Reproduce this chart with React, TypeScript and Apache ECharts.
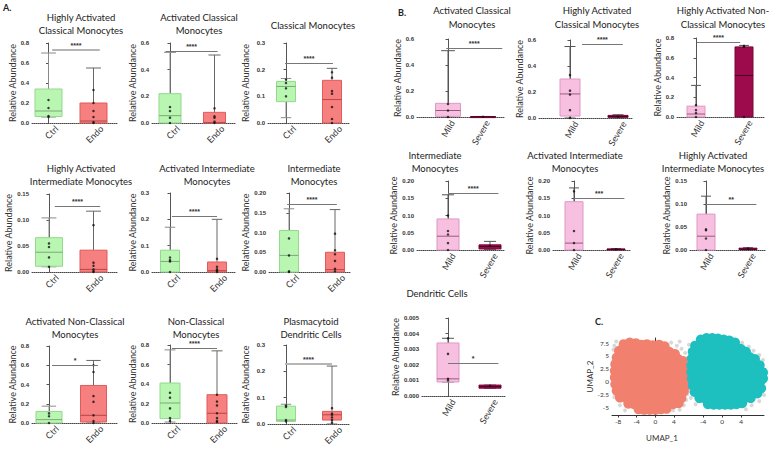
import React, { useEffect, useRef } from 'react';
import * as echarts from 'echarts';

const FONT = 'Lato, "Open Sans", sans-serif';

const groupsA = ['Ctrl', 'Endo'];
const groupsB = ['Mild', 'Severe'];

// box stats per group: [min, q1, median, q3, max]
const hacmBox = [[0.06, 0.065, 0.12, 0.34, 0.70], [0, 0, 0.02, 0.20, 0.55]];
const hacmPts = [[0.23, 0.15, 0.07, 0.06], [0.33, 0.20, 0.12, 0.06, 0.01, 0]];
const hacmSig = [0.08, 1.14, 0.73, '****'];

const acmBox = [[0, 0, 0.055, 0.22, 0.53], [0, 0, 0.003, 0.08, 0.51]];
const acmPts = [[0.12, 0.09, 0.04, 0], [0.11, 0.05, 0.04, 0.01, 0]];
const acmSig = [-0.1, 1.07, 0.54, '****'];

const cmBox = [[0.02, 0.08, 0.137, 0.156, 0.167], [0, 0, 0.088, 0.16, 0.205]];
const cmPts = [[0.163, 0.15, 0.13, 0.10], [0.19, 0.17, 0.12, 0.11, 0.06, 0.015, 0]];
const cmSig = [-0.02, 1.02, 0.225, '****'];

const haimBox = [[0.01, 0.011, 0.038, 0.066, 0.104], [0, 0, 0.005, 0.042, 0.117]];
const haimPts = [[0.055, 0.048, 0.028, 0.01], [0.09, 0.018, 0.012, 0.005, 0.002, 0]];
const haimSig = [0.13, 1.15, 0.127, '****'];

const aimBox = [[0, 0, 0.04, 0.083, 0.17], [0, 0, 0.005, 0.038, 0.2]];
const aimPts = [[0.055, 0.045, 0.04, 0], [0.05, 0.02, 0.01, 0.005, 0]];
const aimSig = [0.04, 1.0, 0.213, '****'];

const imBox = [[0, 0, 0.042, 0.105, 0.16], [0, 0, 0.006, 0.05, 0.158]];
const imPts = [[0.085, 0.042, 0.002, 0], [0.097, 0.055, 0.045, 0.028, 0.008, 0.002]];
const imSig = [-0.04, 1.04, 0.172, '****'];

const ancmBox = [[0, 0, 0.035, 0.12, 0.175], [0, 0.01, 0.08, 0.39, 0.65]];
const ancmPts = [[0.1, 0.07, 0], [0.6, 0.53, 0.28, 0.22, 0.08, 0.02, 0]];
const ancmSig = [0.07, 1.1, 0.6, '*'];

const ncmBox = [[0.01, 0.045, 0.205, 0.41, 0.75], [0, 0, 0.1, 0.29, 0.74]];
const ncmPts = [[0.31, 0.26, 0.15, 0.05, 0.02], [0.29, 0.22, 0.18, 0.10, 0.05, 0.02, 0.01]];
const ncmSig = [0.04, 1.0, 0.77, '****'];

const pdcBox = [[0.01, 0.01, 0.015, 0.068, 0.075], [0, 0.015, 0.035, 0.048, 0.22]];
const pdcPts = [[0.07, 0.065, 0.015, 0.01], [0.06, 0.04, 0.035, 0.025, 0.015, 0.005]];
const pdcSig = [-0.02, 1.0, 0.229, '****'];

const bAcmBox = [[0, 0.005, 0.05, 0.105, 0.51], [0, 0.001, 0.002, 0.003, 0.004]];
const bAcmPts = [[0.1, 0.05, 0], [0.002]];
const bAcmSig = [-0.05, 1.55, 0.53, '****'];

const bHacmBox = [[0, 0.015, 0.185, 0.30, 0.55], [0, 0.005, 0.012, 0.02, 0.025]];
const bHacmPts = [[0.33, 0.21, 0.18, 0.06, 0], [0.01]];
const bHacmSig = [0.25, 1.1, 0.57, '****'];

const bHancmBox = [[0, 0, 0.03, 0.11, 0.32], [0, 0, 0.42, 0.71, 0.725]];
const bHancmPts = [[0.12, 0.07, 0.04, 0], [0.72, 0.71, 0]];
const bHancmSig = [0.02, 0.92, 0.76, '****'];

const bImBox = [[0, 0, 0.04, 0.09, 0.16], [0.002, 0.003, 0.01, 0.015, 0.025]];
const bImPts = [[0.1, 0.055, 0.045, 0.02, 0], [0.012]];
const bImSig = [0, 1.2, 0.165, '****'];

const bAimBox = [[0, 0, 0.02, 0.14, 0.18], [0, 0.001, 0.002, 0.003, 0.004]];
const bAimPts = [[0.17, 0.055, 0.02, 0], [0.002]];
const bAimSig = [0, 1.2, 0.15, '***'];

const bHaimBox = [[0, 0, 0.03, 0.078, 0.117], [0, 0.001, 0.002, 0.004, 0.005]];
const bHaimPts = [[0.045, 0.043, 0.025, 0], [0.003]];
const bHaimSig = [0, 1.2, 0.10, '**'];

const bDcBox = [[0.0009, 0.0009, 0.0011, 0.0034, 0.0037], [0.0005, 0.0005, 0.0006, 0.0007, 0.0007]];
const bDcPts = [[0.0037, 0.0027, 0.0011, 0.001], [0.00065]];
const bDcSig = [0, 1.2, 0.0021, '*'];

const panels = [
  { title: 'Highly Activated\nClassical Monocytes', groups: groupsA, box: hacmBox, pts: hacmPts, sig: hacmSig, yMax: 0.8, yStep: 0.2, digits: 1 },
  { title: 'Activated Classical\nMonocytes', groups: groupsA, box: acmBox, pts: acmPts, sig: acmSig, yMax: 0.6, yStep: 0.2, digits: 1 },
  { title: 'Classical Monocytes', groups: groupsA, box: cmBox, pts: cmPts, sig: cmSig, yMax: 0.3, yStep: 0.1, digits: 1 },
  { title: 'Highly Activated\nIntermediate Monocytes', groups: groupsA, box: haimBox, pts: haimPts, sig: haimSig, yMax: 0.15, yStep: 0.05, digits: 2 },
  { title: 'Activated Intermediate\nMonocytes', groups: groupsA, box: aimBox, pts: aimPts, sig: aimSig, yMax: 0.3, yStep: 0.1, digits: 1 },
  { title: 'Intermediate\nMonocytes', groups: groupsA, box: imBox, pts: imPts, sig: imSig, yMax: 0.2, yStep: 0.05, digits: 2 },
  { title: 'Activated Non-Classical\nMonocytes', groups: groupsA, box: ancmBox, pts: ancmPts, sig: ancmSig, yMax: 0.8, yStep: 0.2, digits: 1 },
  { title: 'Non-Classical\nMonocytes', groups: groupsA, box: ncmBox, pts: ncmPts, sig: ncmSig, yMax: 0.8, yStep: 0.2, digits: 1 },
  { title: 'Plasmacytoid\nDendritic Cells', groups: groupsA, box: pdcBox, pts: pdcPts, sig: pdcSig, yMax: 0.3, yStep: 0.1, digits: 1 },
  { title: 'Activated Classical\nMonocytes', groups: groupsB, box: bAcmBox, pts: bAcmPts, sig: bAcmSig, yMax: 0.6, yStep: 0.2, digits: 1 },
  { title: 'Highly Activated\nClassical Monocytes', groups: groupsB, box: bHacmBox, pts: bHacmPts, sig: bHacmSig, yMax: 0.6, yStep: 0.2, digits: 1 },
  { title: 'Highly Activated Non-\nClassical Monocytes', groups: groupsB, box: bHancmBox, pts: bHancmPts, sig: bHancmSig, yMax: 0.8, yStep: 0.2, digits: 1 },
  { title: 'Intermediate\nMonocytes', groups: groupsB, box: bImBox, pts: bImPts, sig: bImSig, yMax: 0.2, yStep: 0.05, digits: 2 },
  { title: 'Activated Intermediate\nMonocytes', groups: groupsB, box: bAimBox, pts: bAimPts, sig: bAimSig, yMax: 0.2, yStep: 0.05, digits: 2 },
  { title: 'Highly Activated\nIntermediate Monocytes', groups: groupsB, box: bHaimBox, pts: bHaimPts, sig: bHaimSig, yMax: 0.15, yStep: 0.05, digits: 2 },
  { title: 'Dendritic Cells', groups: groupsB, box: bDcBox, pts: bDcPts, sig: bDcSig, yMax: 0.005, yStep: 0.001, digits: 3 },
];

// layout: [axisX, top, right, bottom, center0, center1, boxW, nameGap, titleX, titleY, labelRotate, labelShift]
const frames = [
  [32, 43, 117, 123, 48.5, 93.5, 27, 12.5, 81, 17, 45, 0.18],
  [152, 43, 235, 123, 170, 214.5, 22, 14.5, 199, 17, 45, 0.18],
  [268, 43, 350, 123, 286, 332, 19, 18.5, 313, 25, 45, 0.18],
  [32, 194, 117, 272, 49, 93.5, 27, 13.5, 81, 168, 45, 0.18],
  [152, 193, 235, 272, 170, 217, 19, 14.5, 207, 168, 45, 0.18],
  [269, 193, 350, 272, 289, 335, 19, 19.5, 314, 168, 45, 0.18],
  [32, 346, 117, 423, 49, 93.5, 26, 14.5, 75, 321, 45, 0.18],
  [152, 345, 237, 423, 170, 217, 20, 14.5, 196, 321, 45, 0.18],
  [268, 345, 350, 424, 286, 332, 19, 18.5, 311, 321, 45, 0.18],
  [417, 39, 505, 117, 448, 483, 25, 9.5, 472, 10.5, 60, 0.12],
  [539, 40, 633, 118, 570, 618, 20, 7, 597, 10.5, 60, 0.12],
  [677, 38, 765, 117, 696, 744, 18, 15.5, 723, 10.5, 60, 0.12],
  [417, 181, 505, 250, 448, 490, 22, 9.5, 435, 155, 60, 0.12],
  [553, 181, 630, 250, 574, 616, 18, 10, 575, 155, 60, 0.12],
  [690, 181, 765, 250, 706, 748, 18, 12, 713, 155, 60, 0.12],
  [422, 318, 505, 396, 448, 490, 22, 11, 437, 293, 60, 0.12],
];

const boxStyles: Record<string, any> = {
  Ctrl: { fill: '#b8f6b2', stroke: '#93d98e', median: '#7fa87c', whisker: '#8a8a8a' },
  Endo: { fill: '#f67f7f', stroke: '#e15b5b', median: '#b54848', whisker: '#666666' },
  Mild: { fill: '#f8c0e0', stroke: '#df98c4', median: '#9a5a80', whisker: '#555555' },
  Severe: { fill: '#9e0b4d', stroke: '#7b063a', median: '#4a0020', whisker: '#555555' },
};

// UMAP clusters (approximate read of the embedding)
const umapMild = [
  [-6.8, 7.3], [-5.5, 7.6], [-4.2, 7.5], [-3, 7.2], [-1.8, 7.3], [-0.5, 7.1], [0.8, 7.2], [2, 6.9],
  [-7.8, 6], [-6.6, 6], [-5.4, 6.2], [-4.2, 6], [-3, 6], [-1.8, 6], [-0.6, 6], [0.6, 6], [1.8, 6], [3, 5.8], [4.2, 5.4],
  [-8.3, 4.7], [-7.1, 4.7], [-5.9, 4.7], [-4.7, 4.7], [-3.5, 4.7], [-2.3, 4.7], [-1.1, 4.7], [0.1, 4.7], [1.3, 4.7], [2.5, 4.7], [3.7, 4.6], [4.9, 4.4], [5.9, 4],
  [-8.6, 3.4], [-7.4, 3.4], [-6.2, 3.4], [-5, 3.4], [-3.8, 3.4], [-2.6, 3.4], [-1.4, 3.4], [-0.2, 3.4], [1, 3.4], [2.2, 3.4], [3.4, 3.4], [4.6, 3.4], [5.8, 3.2], [6.5, 2.6],
  [-8.7, 2.1], [-7.5, 2.1], [-6.3, 2.1], [-5.1, 2.1], [-3.9, 2.1], [-2.7, 2.1], [-1.5, 2.1], [-0.3, 2.1], [0.9, 2.1], [2.1, 2.1], [3.3, 2.1], [4.5, 2.1], [5.7, 2.1], [6.6, 1.6],
  [-8.7, 0.8], [-7.5, 0.8], [-6.3, 0.8], [-5.1, 0.8], [-3.9, 0.8], [-2.7, 0.8], [-1.5, 0.8], [-0.3, 0.8], [0.9, 0.8], [2.1, 0.8], [3.3, 0.8], [4.5, 0.8], [5.7, 0.8], [6.6, 0.4],
  [-8.6, -0.5], [-7.4, -0.5], [-6.2, -0.5], [-5, -0.5], [-3.8, -0.5], [-2.6, -0.5], [-1.4, -0.5], [-0.2, -0.5], [1, -0.5], [2.2, -0.5], [3.4, -0.5], [4.6, -0.5], [5.8, -0.5], [6.6, -0.8],
  [-8.3, -1.8], [-7.1, -1.8], [-5.9, -1.8], [-4.7, -1.8], [-3.5, -1.8], [-2.3, -1.8], [-1.1, -1.8], [0.1, -1.8], [1.3, -1.8], [2.5, -1.8], [3.7, -1.8], [4.9, -1.8], [6.1, -1.9],
  [-7.6, -3.1], [-6.4, -3.1], [-5.2, -3.1], [-4, -3.1], [-2.8, -3.1], [-1.6, -3.1], [-0.4, -3.1], [0.8, -3.1], [2, -3.1], [3.2, -3.1], [4.4, -3.1], [5.6, -3.2],
  [-5.8, -4.3], [-4.6, -4.4], [-3.4, -4.4], [-2.2, -4.4], [-1, -4.4], [0.2, -4.4], [1.4, -4.4], [2.6, -4.4], [3.8, -4.4], [5, -4.2],
  [-3.6, -5.4], [-2.4, -5.5], [-1.2, -5.5], [0, -5.5], [1.2, -5.4], [2.4, -5.3],
];
const umapMildBackground = [
  [-8.8, 7], [-8.4, 7.8], [-9, 6.2], [3.4, 7.6], [4.6, 7], [5.6, 6.4], [6.4, 5.6], [5.2, 7.8], [6.7, 4.6],
  [6.8, -2.4], [6.6, -3.6], [6.1, -4.6], [-8.8, -3], [-7.6, -4.6], [-6.5, -5.6], [3.8, -5.6], [5.2, -5.5],
];
const umapSevere = [
  [-4.5, 8.2], [-3.3, 8.5], [-2.1, 8.5], [-0.9, 8.4], [0.3, 8.2], [1.5, 8], [2.7, 7.6],
  [-5.7, 7], [-4.5, 7.1], [-3.3, 7.1], [-2.1, 7.1], [-0.9, 7.1], [0.3, 7.1], [1.5, 7], [2.7, 6.8], [3.9, 6.4], [5, 5.8],
  [-6.2, 5.8], [-5, 5.8], [-3.8, 5.8], [-2.6, 5.8], [-1.4, 5.8], [-0.2, 5.8], [1, 5.8], [2.2, 5.8], [3.4, 5.6], [4.6, 5.2], [5.8, 4.8], [6.9, 4.4],
  [-6.4, 4.5], [-5.2, 4.5], [-4, 4.5], [-2.8, 4.5], [-1.6, 4.5], [-0.4, 4.5], [0.8, 4.5], [2, 4.5], [3.2, 4.5], [4.4, 4.3], [5.6, 3.9], [6.8, 3.6], [7.9, 3.2],
  [-6.5, 3.2], [-5.3, 3.2], [-4.1, 3.2], [-2.9, 3.2], [-1.7, 3.2], [-0.5, 3.2], [0.7, 3.2], [1.9, 3.2], [3.1, 3.2], [4.3, 3.2], [5.5, 2.8], [6.7, 2.6], [7.9, 2.3], [8.6, 1.8],
  [-6.5, 1.9], [-5.3, 1.9], [-4.1, 1.9], [-2.9, 1.9], [-1.7, 1.9], [-0.5, 1.9], [0.7, 1.9], [1.9, 1.9], [3.1, 1.9], [4.3, 1.9], [5.5, 1.7], [6.7, 1.5], [7.9, 1.2], [8.6, 0.6],
  [-6.4, 0.6], [-5.2, 0.6], [-4, 0.6], [-2.8, 0.6], [-1.6, 0.6], [-0.4, 0.6], [0.8, 0.6], [2, 0.6], [3.2, 0.6], [4.4, 0.6], [5.6, 0.5], [6.8, 0.3], [8, 0],
  [-6.2, -0.7], [-5, -0.7], [-3.8, -0.7], [-2.6, -0.7], [-1.4, -0.7], [-0.2, -0.7], [1, -0.7], [2.2, -0.7], [3.4, -0.7], [4.6, -0.7], [5.8, -0.8], [7, -1], [8.2, -1.3],
  [-5.8, -2], [-4.6, -2], [-3.4, -2], [-2.2, -2], [-1, -2], [0.2, -2], [1.4, -2], [2.6, -2], [3.8, -2], [5, -2], [6.2, -2.1], [7.4, -2.3],
  [-4.8, -3.2], [-3.6, -3.3], [-2.4, -3.3], [-1.2, -3.3], [0, -3.3], [1.2, -3.3], [2.4, -3.3], [3.6, -3.3], [4.8, -3.2], [6, -3.2],
  [-3, -4.4], [-1.8, -4.5], [-0.6, -4.5], [0.6, -4.5], [1.8, -4.5], [3, -4.4], [4.2, -4.2],
];
const umapSevereBackground = [
  [-7, 7.2], [-6.8, 6.2], [-7.1, 4.6], [-7, 2.4], [-7.1, 0.2], [-7, -1.8], [-6.6, -3.2], [-5.6, -4.4],
  [4.2, 7.6], [5.6, 6.8], [6.6, 6], [7.8, 5.2], [8.6, 4.2], [8.8, -2.6], [7.8, -3.8], [6.2, -4.6], [5, -5.4],
];
const umapYTicks = [-5, -2.5, 0, 2.5, 5, 7.5];
const umapXTicksLeft = [-8, -4, 0, 4];
const umapXTicksRight = [-4, 0, 4];

function buildOption() {
  const grid: any[] = [];
  const xAxis: any[] = [];
  const yAxis: any[] = [];
  const series: any[] = [];
  const graphic: any[] = [];

  panels.forEach((p, i) => {
    const [ax, top, right, bottom, c0, c1, boxW, nameGap, tx, ty, rot, shift] = frames[i];
    const unit = c1 - c0;
    grid.push({ left: ax, top, width: right - ax, height: bottom - top });
    xAxis.push({
      type: 'value', gridIndex: i,
      min: (ax - c0) / unit, max: 1 + (right - c1) / unit,
      axisLine: { show: true, onZero: false, lineStyle: { type: 'dotted', color: '#444', width: 1 } },
      axisTick: { show: false },
      splitLine: { show: false },
      axisLabel: {
        customValues: [shift, 1 + shift],
        formatter: (v: number) => p.groups[Math.round(v)],
        rotate: rot, fontSize: 9, color: '#333', margin: 4, fontFamily: FONT,
      },
    });
    yAxis.push({
      type: 'value', gridIndex: i, min: 0, max: p.yMax, interval: p.yStep,
      axisLine: { show: true, lineStyle: { color: '#555', width: 1 } },
      axisTick: { show: true, length: 2.5, lineStyle: { color: '#555' } },
      splitLine: { show: false },
      axisLabel: {
        fontSize: 6, fontWeight: 'bold', color: '#333', margin: 3, fontFamily: 'Arial, "Liberation Sans", sans-serif',
        formatter: (v: number) => v.toFixed(p.digits),
      },
      name: 'Relative Abundance', nameLocation: 'middle', nameGap, nameRotate: 90,
      nameTextStyle: { fontSize: 9, color: '#333', fontFamily: FONT },
    });
    const groups = p.groups;
    series.push({
      type: 'custom', xAxisIndex: i, yAxisIndex: i, z: 2,
      data: p.box.map((b, j) => [j, ...b]),
      encode: { x: 0, y: [1, 2, 3, 4, 5] },
      renderItem: (params: any, api: any) => {
        const j = params.dataIndex;
        const x = api.value(0);
        const c = [1, 2, 3, 4, 5].map((k) => api.coord([x, api.value(k)]));
        const cx = c[0][0];
        const w = boxW as number;
        const cap = w * 0.55;
        const st = boxStyles[groups[j]];
        const line = (x1: number, y1: number, x2: number, y2: number, stroke: string) => ({
          type: 'line', shape: { x1, y1, x2, y2 }, style: { stroke, lineWidth: 1 },
        });
        return {
          type: 'group',
          children: [
            line(cx, c[4][1], cx, c[3][1], st.whisker),
            line(cx, c[1][1], cx, c[0][1], st.whisker),
            line(cx - cap / 2, c[4][1], cx + cap / 2, c[4][1], st.whisker),
            line(cx - cap / 2, c[0][1], cx + cap / 2, c[0][1], st.whisker),
            {
              type: 'rect',
              shape: { x: cx - w / 2, y: c[3][1], width: w, height: Math.max(c[1][1] - c[3][1], 1) },
              style: { fill: st.fill, stroke: st.stroke, lineWidth: 1 },
            },
            line(cx - w / 2, c[2][1], cx + w / 2, c[2][1], st.median),
          ],
        };
      },
    });
    const [s0, s1, sy, slabel] = p.sig as any[];
    const heavy = i === 0 || i === 8;
    series.push({
      type: 'scatter', xAxisIndex: i, yAxisIndex: i, z: 3,
      symbolSize: 2.5, itemStyle: { color: '#111' },
      data: p.pts.flatMap((arr, j) => arr.map((v) => [j, v])),
      markLine: {
        silent: true, symbol: ['none', 'none'], animation: false,
        lineStyle: { color: heavy ? '#b5b5b5' : '#777', width: heavy ? 2 : 1, type: 'solid' },
        label: {
          show: true, position: 'insideMiddleTop', distance: 1, formatter: slabel,
          fontSize: 7, fontWeight: 'bold', color: '#333', fontFamily: 'Arial, sans-serif',
        },
        data: [[{ coord: [s0, sy] }, { coord: [s1, sy] }]],
      },
    });
    graphic.push({
      type: 'text', x: tx, y: (ty as number) - 6.75,
      style: {
        text: p.title, textAlign: 'center', textVerticalAlign: 'top',
        fontSize: 9.5, lineHeight: 13.5, fill: '#222', fontFamily: FONT,
      },
    });
  });

  // UMAP panel C
  const u0 = panels.length;
  grid.push({ left: 612, top: 338, width: 76, height: 77 });
  grid.push({ left: 688, top: 338, width: 76, height: 77 });
  const umapTickLabel = { fontSize: 6.5, color: '#333', margin: 3, fontFamily: FONT };
  xAxis.push({
    type: 'value', gridIndex: u0, min: -9.3, max: 7,
    axisLine: { show: true, onZero: false, lineStyle: { color: '#333' } },
    axisTick: { show: true, length: 2.5, customValues: umapXTicksLeft },
    axisLabel: { ...umapTickLabel, customValues: umapXTicksLeft },
    splitLine: { show: false },
  });
  xAxis.push({
    type: 'value', gridIndex: u0 + 1, min: -7.2, max: 8.8,
    axisLine: { show: true, onZero: false, lineStyle: { color: '#333' } },
    axisTick: { show: true, length: 2.5, customValues: umapXTicksRight },
    axisLabel: { ...umapTickLabel, customValues: umapXTicksRight },
    splitLine: { show: false },
  });
  yAxis.push({
    type: 'value', gridIndex: u0, min: -6.5, max: 8.5,
    axisLine: { show: true, lineStyle: { color: '#333' } },
    axisTick: { show: true, length: 2.5, customValues: umapYTicks },
    axisLabel: { ...umapTickLabel, customValues: umapYTicks },
    splitLine: { show: false },
    name: 'UMAP_2', nameLocation: 'middle', nameGap: 16, nameRotate: 90,
    nameTextStyle: { fontSize: 8, color: '#333', fontFamily: FONT },
  });
  yAxis.push({
    type: 'value', gridIndex: u0 + 1, min: -6.5, max: 8.5, show: false,
  });
  series.push({
    type: 'scatter', xAxisIndex: u0, yAxisIndex: u0, symbolSize: 4, z: 1,
    itemStyle: { color: '#d4d4d4', opacity: 0.9 }, data: umapMildBackground, silent: true,
  });
  series.push({
    type: 'scatter', xAxisIndex: u0, yAxisIndex: u0, symbolSize: 10, z: 2,
    itemStyle: { color: '#f2806f', opacity: 1 }, data: umapMild, silent: true,
  });
  series.push({
    type: 'scatter', xAxisIndex: u0 + 1, yAxisIndex: u0 + 1, symbolSize: 4, z: 1,
    itemStyle: { color: '#d4d4d4', opacity: 0.9 }, data: umapSevereBackground, silent: true,
  });
  series.push({
    type: 'scatter', xAxisIndex: u0 + 1, yAxisIndex: u0 + 1, symbolSize: 10, z: 2,
    itemStyle: { color: '#1ebfbf', opacity: 1 }, data: umapSevere, silent: true,
  });

  graphic.push({ type: 'text', x: 3, y: 3, style: { text: 'A.', fontSize: 9, fontWeight: 'bold', fill: '#222', fontFamily: FONT } });
  graphic.push({ type: 'text', x: 398, y: 8, style: { text: 'B.', fontSize: 9, fontWeight: 'bold', fill: '#222', fontFamily: FONT } });
  graphic.push({ type: 'text', x: 595, y: 317, style: { text: 'C.', fontSize: 9, fontWeight: 'bold', fill: '#222', fontFamily: FONT } });
  graphic.push({ type: 'text', x: 662, y: 434, style: { text: 'UMAP_1', textAlign: 'center', fontSize: 8, fill: '#333', fontFamily: FONT } });

  return { animation: false, backgroundColor: '#ffffff', grid, xAxis, yAxis, series, graphic };
}

export default function App() {
  const ref = useRef<HTMLDivElement>(null);
  useEffect(() => {
    document.body.style.margin = '0';
    if (!ref.current) return;
    const chart = echarts.init(ref.current, undefined, { renderer: 'svg' });
    chart.setOption(buildOption() as any);
    return () => chart.dispose();
  }, []);
  return <div ref={ref} style={{ width: 777, height: 451 }} />;
}
